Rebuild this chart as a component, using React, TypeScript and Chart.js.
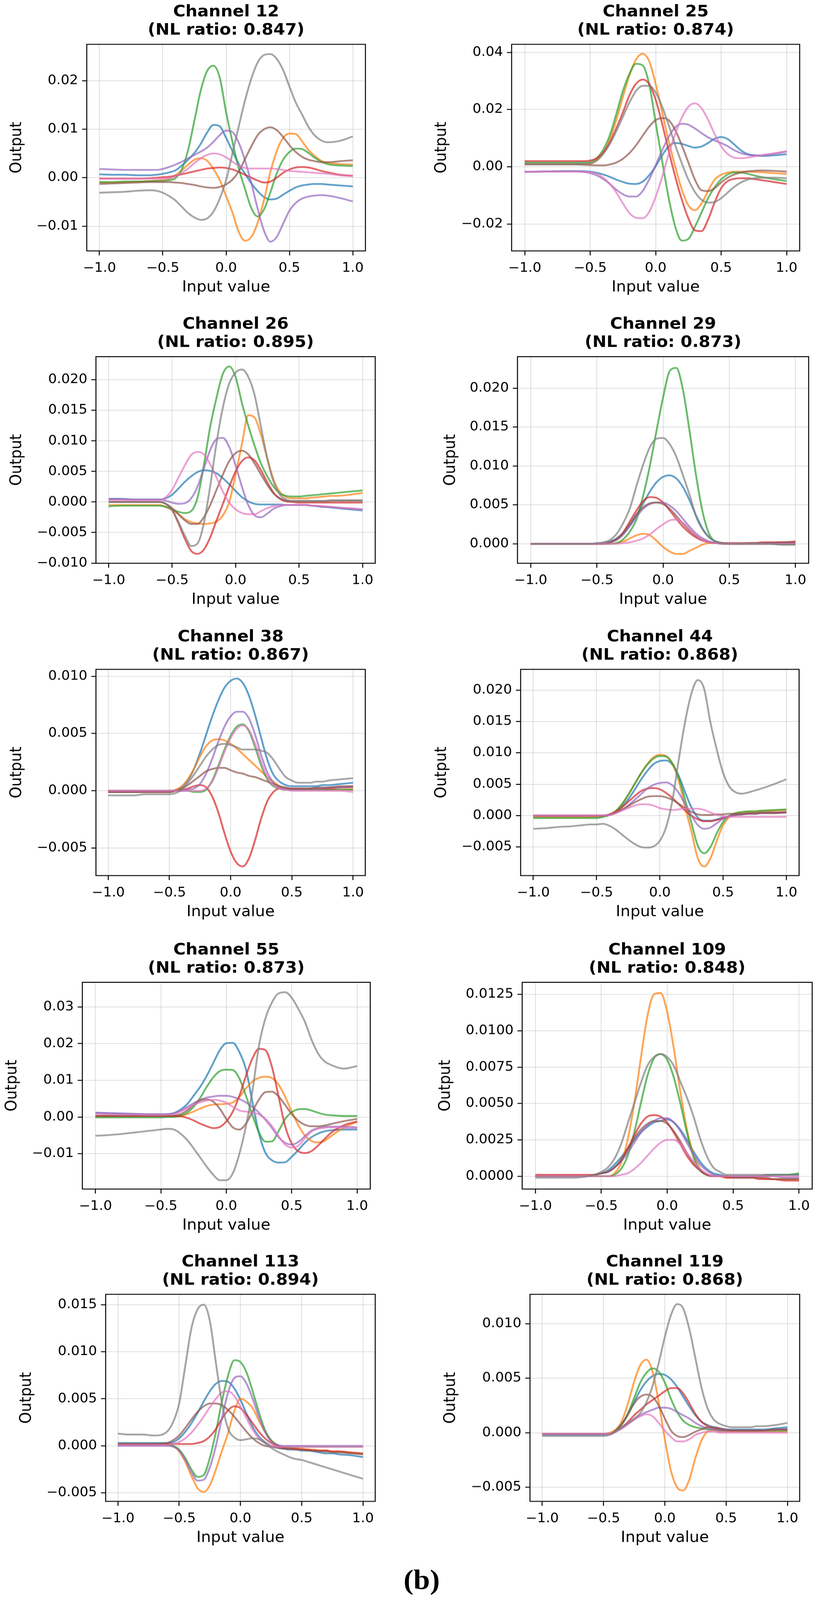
import { useEffect, useRef } from 'react';
import { Chart, registerables } from 'chart.js';

Chart.register(...registerables);

// input positions the curves were read at (shared by every panel)
const inputGrid = [
  -1, -0.9, -0.8, -0.7, -0.6,
  -0.55, -0.5, -0.45, -0.4, -0.35,
  -0.3, -0.25, -0.2, -0.15, -0.1,
  -0.05, 0, 0.05, 0.1, 0.15,
  0.2, 0.25, 0.3, 0.35, 0.4,
  0.45, 0.5, 0.55, 0.6, 0.65,
  0.7, 0.75, 0.8, 0.9, 1,
];

const channels = [12, 25, 26, 29, 38, 44, 55, 109, 113, 119];
const nlRatios = ['0.847', '0.874', '0.895', '0.873', '0.867', '0.868', '0.873', '0.848', '0.894', '0.868'];

const xTicks = [-1, -0.5, 0, 0.5, 1];
const xLimits = [-1.1, 1.1];

const yTicks = [
  [-0.01, 0, 0.01, 0.02],
  [-0.02, 0, 0.02, 0.04],
  [-0.01, -0.005, 0, 0.005, 0.01, 0.015, 0.02],
  [0, 0.005, 0.01, 0.015, 0.02],
  [-0.005, 0, 0.005, 0.01],
  [-0.005, 0, 0.005, 0.01, 0.015, 0.02],
  [-0.01, 0, 0.01, 0.02, 0.03],
  [0, 0.0025, 0.005, 0.0075, 0.01, 0.0125],
  [-0.005, 0, 0.005, 0.01, 0.015],
  [-0.005, 0, 0.005, 0.01],
];
const yDecimals = [2, 2, 3, 3, 3, 3, 2, 4, 3, 3];
const yLimits = [
  [-0.0151, 0.0275],
  [-0.0294, 0.0428],
  [-0.01003, 0.0238],
  [-0.0025, 0.02405],
  [-0.0074, 0.0106],
  [-0.00955, 0.0233],
  [-0.0196, 0.0367],
  [-0.00088, 0.01333],
  [-0.0059, 0.0161],
  [-0.0063, 0.0127],
];

// 8 curves per panel, in order: blue, orange, green, red, purple, brown, pink, gray
const ch12 = [
  [0.0007, 0.0006, 0.0006, 0.0005, 0.0005, 0.0006, 0.0008, 0.0011, 0.0015, 0.0025, 0.0037, 0.0051, 0.007, 0.0093, 0.0109, 0.0106, 0.0082, 0.0055, 0.0028, 0.0008, -0.0012, -0.0028, -0.004, -0.0045, -0.0043, -0.0035, -0.0027, -0.002, -0.0016, -0.0014, -0.0013, -0.0013, -0.0014, -0.0016, -0.0018],
  [-0.001, -0.001, -0.0009, -0.0008, -0.0007, -0.0006, -0.0005, -0.0002, 0.0005, 0.0015, 0.0027, 0.0037, 0.004, 0.0035, 0.0018, -0.0005, -0.0038, -0.0072, -0.0112, -0.013, -0.0122, -0.0092, -0.0045, 0.0012, 0.0055, 0.0082, 0.0091, 0.009, 0.0075, 0.0057, 0.0045, 0.0035, 0.0031, 0.0028, 0.0027],
  [-0.0009, -0.0009, -0.0008, -0.0008, -0.0007, -0.0007, -0.0007, -0.0005, -0.0001, 0.0017, 0.0057, 0.0118, 0.018, 0.022, 0.0231, 0.0206, 0.0135, 0.0074, 0.0019, -0.0024, -0.0063, -0.008, -0.0065, -0.003, 0.0009, 0.0037, 0.0053, 0.006, 0.0059, 0.0051, 0.0041, 0.0033, 0.0028, 0.0025, 0.0024],
  [-0.0002, -0.0002, -0.0002, -0.0002, -0.0001, 0, 0.0001, 0.0002, 0.0004, 0.0007, 0.001, 0.0013, 0.0016, 0.0019, 0.002, 0.0021, 0.002, 0.0017, 0.0012, 0.0006, 0, -0.0006, -0.001, -0.0008, 0, 0.001, 0.0017, 0.0021, 0.0022, 0.0021, 0.0018, 0.0014, 0.0011, 0.0006, 0.0004],
  [0.0018, 0.0017, 0.0016, 0.0016, 0.0016, 0.0016, 0.0018, 0.0022, 0.0027, 0.0033, 0.004, 0.0047, 0.0054, 0.0062, 0.0074, 0.0088, 0.0097, 0.0094, 0.0072, 0.0035, -0.0012, -0.0065, -0.011, -0.0132, -0.0122, -0.0095, -0.0068, -0.0052, -0.0043, -0.0039, -0.0037, -0.0036, -0.0037, -0.0042, -0.0049],
  [-0.0013, -0.0012, -0.0011, -0.001, -0.0009, -0.0009, -0.0009, -0.0009, -0.001, -0.0011, -0.0013, -0.0015, -0.0018, -0.002, -0.0021, -0.0019, -0.0014, -0.0004, 0.0013, 0.0039, 0.0065, 0.0088, 0.01, 0.0104, 0.0098, 0.0084, 0.0067, 0.0053, 0.0043, 0.0037, 0.0034, 0.0032, 0.0032, 0.0034, 0.0036],
  [-0.0002, -0.0002, -0.0002, -0.0002, -0.0002, -0.0002, -0.0002, -0.0001, 0.0003, 0.001, 0.0019, 0.003, 0.004, 0.0047, 0.005, 0.0048, 0.0042, 0.0033, 0.0025, 0.002, 0.0019, 0.0019, 0.0019, 0.0019, 0.0018, 0.0016, 0.0014, 0.0013, 0.0012, 0.0011, 0.001, 0.0009, 0.0008, 0.0005, 0.0003],
  [-0.0031, -0.003, -0.0029, -0.0027, -0.0026, -0.0027, -0.0031, -0.0038, -0.0047, -0.006, -0.0073, -0.0082, -0.0087, -0.0084, -0.007, -0.0043, -0.0005, 0.005, 0.0106, 0.016, 0.0205, 0.0238, 0.0253, 0.0255, 0.0245, 0.0222, 0.0188, 0.0155, 0.013, 0.0105, 0.0087, 0.0077, 0.0073, 0.0076, 0.0085],
];

const ch25 = [
  [-0.0018, -0.0017, -0.0016, -0.0015, -0.0015, -0.0015, -0.0017, -0.0021, -0.0027, -0.0035, -0.0045, -0.0053, -0.0059, -0.006, -0.0052, -0.003, 0.0002, 0.004, 0.0072, 0.0083, 0.008, 0.0073, 0.0067, 0.0071, 0.0083, 0.0098, 0.0104, 0.0097, 0.0078, 0.0058, 0.0045, 0.004, 0.0038, 0.004, 0.0044],
  [0.001, 0.001, 0.001, 0.001, 0.001, 0.001, 0.0011, 0.0022, 0.0048, 0.0095, 0.0165, 0.0245, 0.032, 0.0375, 0.0395, 0.037, 0.029, 0.019, 0.009, 0, -0.008, -0.0135, -0.0152, -0.0128, -0.0085, -0.0045, -0.0028, -0.002, -0.0017, -0.0017, -0.0017, -0.0018, -0.0019, -0.0022, -0.0025],
  [0.0015, 0.0015, 0.0015, 0.0015, 0.0015, 0.0015, 0.0017, 0.003, 0.006, 0.011, 0.0185, 0.0265, 0.0325, 0.036, 0.0355, 0.029, 0.0155, 0.002, -0.011, -0.021, -0.0258, -0.0252, -0.021, -0.016, -0.011, -0.0072, -0.0044, -0.0027, -0.002, -0.002, -0.0024, -0.003, -0.0035, -0.0043, -0.005],
  [0.002, 0.002, 0.002, 0.002, 0.002, 0.002, 0.0022, 0.003, 0.005, 0.0085, 0.0135, 0.019, 0.025, 0.029, 0.0305, 0.029, 0.0235, 0.015, 0.0055, -0.0035, -0.0115, -0.018, -0.0222, -0.0225, -0.0185, -0.0125, -0.0075, -0.005, -0.0042, -0.004, -0.004, -0.0043, -0.0046, -0.0053, -0.006],
  [-0.0018, -0.0017, -0.0016, -0.0016, -0.0016, -0.0018, -0.0022, -0.003, -0.0043, -0.006, -0.008, -0.0096, -0.0104, -0.0104, -0.0085, -0.0045, 0.0005, 0.0058, 0.0105, 0.0138, 0.015, 0.0147, 0.0134, 0.0118, 0.0103, 0.0092, 0.0083, 0.0072, 0.0058, 0.0048, 0.0042, 0.004, 0.004, 0.0045, 0.0053],
  [0.0008, 0.0008, 0.0008, 0.0008, 0.0008, 0.0007, 0.0006, 0.0005, 0.0005, 0.0008, 0.0015, 0.0028, 0.0048, 0.0075, 0.0108, 0.014, 0.0163, 0.017, 0.0163, 0.0128, 0.0075, 0.0015, -0.0045, -0.0082, -0.0085, -0.0075, -0.0055, -0.0038, -0.0027, -0.002, -0.0016, -0.0014, -0.0013, -0.0014, -0.0017],
  [-0.0017, -0.0017, -0.0017, -0.0017, -0.0017, -0.0018, -0.0019, -0.0025, -0.0038, -0.006, -0.009, -0.0128, -0.0162, -0.0178, -0.018, -0.0158, -0.0105, -0.0035, 0.0045, 0.0115, 0.0172, 0.021, 0.0222, 0.0205, 0.0165, 0.0115, 0.0072, 0.0045, 0.0032, 0.003, 0.0032, 0.0036, 0.004, 0.0047, 0.0055],
  [0.001, 0.001, 0.001, 0.001, 0.001, 0.001, 0.0012, 0.0022, 0.0045, 0.008, 0.0125, 0.0175, 0.0225, 0.0265, 0.0283, 0.0283, 0.026, 0.021, 0.0145, 0.0075, 0.0012, -0.0045, -0.0088, -0.0115, -0.0125, -0.0123, -0.011, -0.009, -0.007, -0.0055, -0.0045, -0.004, -0.0038, -0.0038, -0.004],
];

const ch26 = [
  [0.0005, 0.0005, 0.0004, 0.0004, 0.0004, 0.0006, 0.0012, 0.0022, 0.0033, 0.0042, 0.0049, 0.0052, 0.0051, 0.0047, 0.0039, 0.0029, 0.0018, 0.0008, 0.0001, -0.0003, -0.0004, -0.0004, -0.0004, -0.0004, -0.0005, -0.0005, -0.0005, -0.0005, -0.0006, -0.0007, -0.0008, -0.0009, -0.001, -0.0012, -0.0014],
  [-0.0005, -0.0005, -0.0005, -0.0005, -0.0005, -0.0008, -0.0013, -0.002, -0.0028, -0.0033, -0.0035, -0.0036, -0.0035, -0.0032, -0.0022, 0, 0.0045, 0.0095, 0.0142, 0.0138, 0.011, 0.0071, 0.0036, 0.0016, 0.0008, 0.0006, 0.0006, 0.0006, 0.0007, 0.0008, 0.0009, 0.001, 0.001, 0.0012, 0.0015],
  [-0.0007, -0.0006, -0.0006, -0.0006, -0.0006, -0.0008, -0.0012, -0.0016, -0.0018, -0.0015, 0.0007, 0.006, 0.0123, 0.0171, 0.021, 0.0222, 0.0205, 0.0162, 0.0125, 0.0092, 0.0063, 0.0042, 0.0025, 0.0014, 0.001, 0.0009, 0.0009, 0.001, 0.0011, 0.0012, 0.0013, 0.0014, 0.0015, 0.0017, 0.0019],
  [0, 0, 0, 0, 0, -0.0003, -0.0013, -0.0035, -0.006, -0.008, -0.0085, -0.0078, -0.0058, -0.003, -0.0003, 0.0025, 0.005, 0.0067, 0.0073, 0.0068, 0.0052, 0.0032, 0.0015, 0.0005, 0.0001, 0, -0.0001, -0.0001, -0.0001, -0.0001, -0.0001, -0.0001, -0.0001, -0.0001, -0.0001],
  [0.0005, 0.0005, 0.0004, 0.0004, 0.0004, 0.0002, -0.0001, -0.0003, -0.0002, 0.0006, 0.0025, 0.0055, 0.0085, 0.0103, 0.0105, 0.009, 0.006, 0.0025, -0.0005, -0.0022, -0.0025, -0.0019, -0.0011, -0.0007, -0.0005, -0.0005, -0.0005, -0.0005, -0.0006, -0.0007, -0.0008, -0.0008, -0.0009, -0.0011, -0.0012],
  [0, 0, 0, 0, 0, -0.0003, -0.001, -0.002, -0.003, -0.0036, -0.0036, -0.0025, -0.0005, 0.002, 0.0045, 0.0067, 0.008, 0.0084, 0.0078, 0.0063, 0.0045, 0.0028, 0.0014, 0.0006, 0.0002, 0.0001, 0.0001, 0.0001, 0.0001, 0.0001, 0.0001, 0.0002, 0.0002, 0.0002, 0.0002],
  [0.0003, 0.0003, 0.0003, 0.0003, 0.0003, 0.0008, 0.002, 0.004, 0.006, 0.0077, 0.0082, 0.0078, 0.0062, 0.004, 0.0017, -0.0001, -0.0012, -0.0018, -0.002, -0.002, -0.0015, -0.001, -0.0007, -0.0005, -0.0005, -0.0005, -0.0005, -0.0005, -0.0006, -0.0006, -0.0007, -0.0008, -0.0009, -0.001, -0.0012],
  [0, 0, 0, 0, 0, -0.0003, -0.0013, -0.0033, -0.0055, -0.0072, -0.0068, -0.0035, 0.0026, 0.0097, 0.0155, 0.0194, 0.0212, 0.0217, 0.0205, 0.0175, 0.0123, 0.0071, 0.0033, 0.0012, 0.0004, 0.0002, 0.0002, 0.0002, 0.0002, 0.0002, 0.0002, 0.0003, 0.0003, 0.0003, 0.0003],
];

const ch29 = [
  [0, 0, 0, 0, 0, 0, 0, 0.0001, 0.0003, 0.0007, 0.0014, 0.0024, 0.0037, 0.0052, 0.0067, 0.0079, 0.0086, 0.0088, 0.0084, 0.0073, 0.0056, 0.0036, 0.0019, 0.0008, 0.0003, 0.0001, 0, 0, 0, 0, 0, 0, 0.0001, 0.0001, 0.0001],
  [0, 0, 0, 0, 0, 0, 0, 0, 0, 0.0001, 0.0003, 0.0007, 0.0011, 0.0013, 0.0011, 0.0004, -0.0004, -0.001, -0.0013, -0.0013, -0.0009, -0.0005, -0.0001, 0.0001, 0.0001, 0.0001, 0, 0, 0, 0, 0, 0, 0, 0, 0],
  [0, 0, 0, 0, 0, 0, 0, 0, 0, 0.0001, 0.0006, 0.0016, 0.0032, 0.0062, 0.01, 0.0145, 0.0188, 0.0222, 0.0226, 0.0198, 0.0145, 0.0087, 0.004, 0.0012, 0.0002, 0, 0, 0, 0, 0, 0, 0, 0, -0.0001, -0.0001],
  [0, 0, 0, 0, 0, 0, 0, 0, 0.0002, 0.0006, 0.0015, 0.0029, 0.0043, 0.0055, 0.006, 0.0059, 0.0053, 0.0043, 0.0032, 0.0022, 0.0014, 0.0008, 0.0004, 0.0002, 0.0001, 0.0001, 0.0001, 0.0001, 0.0001, 0.0001, 0.0001, 0.0002, 0.0002, 0.0002, 0.0003],
  [0, 0, 0, 0, 0, 0, 0, 0, 0.0002, 0.0005, 0.0012, 0.0023, 0.0035, 0.0045, 0.0051, 0.0053, 0.0053, 0.0049, 0.0042, 0.0032, 0.0022, 0.0013, 0.0007, 0.0003, 0.0001, 0, 0, 0, 0, 0, 0, 0, 0, 0, 0.0001],
  [0, 0, 0, 0, 0, 0, 0, 0, 0.0002, 0.0006, 0.0014, 0.0026, 0.0038, 0.0047, 0.0052, 0.0053, 0.0051, 0.0045, 0.0036, 0.0026, 0.0017, 0.001, 0.0005, 0.0002, 0.0001, 0, 0, 0, 0, 0.0001, 0.0001, 0.0001, 0.0001, 0.0002, 0.0002],
  [0, 0, 0, 0, 0, 0, 0, 0, 0, 0, 0.0001, 0.0002, 0.0004, 0.0007, 0.0012, 0.0019, 0.0025, 0.003, 0.0031, 0.0027, 0.0019, 0.0011, 0.0005, 0.0002, 0.0001, 0, 0, 0, 0, 0, 0, 0, 0, 0, 0],
  [0, 0, 0, 0, 0, 0, 0.0001, 0.0002, 0.0005, 0.0013, 0.0027, 0.0046, 0.0075, 0.0102, 0.0124, 0.0135, 0.0136, 0.0128, 0.0112, 0.0088, 0.0063, 0.0035, 0.0018, 0.0008, 0.0003, 0.0001, 0, 0, 0, 0, 0, 0, 0, -0.0001, -0.0001],
];

const ch38 = [
  [-0.0001, -0.0001, -0.0001, -0.0001, -0.0001, -0.0001, -0.0001, 0, 0.0003, 0.0009, 0.0019, 0.0033, 0.0049, 0.0065, 0.0079, 0.009, 0.0096, 0.0098, 0.0094, 0.0083, 0.0066, 0.0046, 0.0027, 0.0014, 0.0008, 0.0005, 0.0004, 0.0004, 0.0004, 0.0004, 0.0004, 0.0005, 0.0005, 0.0006, 0.0007],
  [0, 0, 0, 0, 0, 0, 0, 0.0001, 0.0004, 0.001, 0.0019, 0.003, 0.0039, 0.0044, 0.0045, 0.0044, 0.0041, 0.0037, 0.0032, 0.0027, 0.0022, 0.0017, 0.0012, 0.0008, 0.0004, 0.0002, 0.0001, 0.0001, 0.0001, 0.0001, 0.0001, 0.0001, 0.0001, 0.0001, 0.0001],
  [0, 0, 0, 0, 0, 0, 0, 0, 0, 0, -0.0001, -0.0001, 0.0001, 0.0009, 0.0022, 0.0036, 0.0048, 0.0056, 0.0058, 0.0052, 0.0038, 0.0022, 0.001, 0.0004, 0.0002, 0.0001, 0.0001, 0.0001, 0.0001, 0.0001, 0.0001, 0.0001, 0.0001, 0.0001, 0.0001],
  [-0.0001, -0.0001, -0.0001, -0.0001, -0.0001, -0.0001, -0.0001, 0, 0.0001, 0.0002, 0.0004, 0.0005, 0.0003, -0.0005, -0.0019, -0.0037, -0.0053, -0.0063, -0.0066, -0.0059, -0.0043, -0.0024, -0.0009, -0.0001, 0.0002, 0.0002, 0.0002, 0.0002, 0.0002, 0.0002, 0.0002, 0.0002, 0.0002, 0.0003, 0.0003],
  [0, 0, 0, 0, 0, 0, 0, 0, 0, 0.0001, 0.0002, 0.0006, 0.0015, 0.0028, 0.0043, 0.0056, 0.0065, 0.0069, 0.0069, 0.0063, 0.0049, 0.0031, 0.0016, 0.0007, 0.0003, 0.0002, 0.0001, 0.0001, 0.0001, 0.0002, 0.0002, 0.0002, 0.0003, 0.0003, 0.0004],
  [-0.0001, -0.0001, -0.0001, -0.0001, -0.0001, -0.0001, -0.0001, 0, 0.0002, 0.0005, 0.0009, 0.0013, 0.0017, 0.0019, 0.002, 0.002, 0.0018, 0.0016, 0.0015, 0.0013, 0.0012, 0.001, 0.0008, 0.0006, 0.0004, 0.0003, 0.0002, 0.0002, 0.0002, 0.0002, 0.0003, 0.0003, 0.0003, 0.0004, 0.0004],
  [0, 0, 0, 0, 0, 0, 0, 0, 0, 0, 0, 0, 0.0002, 0.0008, 0.002, 0.0034, 0.0046, 0.0054, 0.0057, 0.0053, 0.0041, 0.0025, 0.0012, 0.0005, 0.0002, 0.0001, 0, 0, 0, 0, 0, 0, 0, 0, -0.0001],
  [-0.0004, -0.0004, -0.0004, -0.0003, -0.0003, -0.0003, -0.0003, -0.0002, 0.0001, 0.0007, 0.0014, 0.0022, 0.003, 0.0036, 0.004, 0.0041, 0.004, 0.0038, 0.0036, 0.0036, 0.0036, 0.0035, 0.0033, 0.0027, 0.0019, 0.0012, 0.0009, 0.0007, 0.0007, 0.0007, 0.0008, 0.0008, 0.0009, 0.001, 0.0011],
];

const ch44 = [
  [-0.0002, -0.0002, -0.0002, -0.0002, -0.0002, -0.0002, -0.0002, -0.0001, 0.0001, 0.0006, 0.0014, 0.0026, 0.0041, 0.0057, 0.0071, 0.0082, 0.0087, 0.0088, 0.0081, 0.0063, 0.0037, 0.0013, -0.0003, -0.0008, -0.0008, -0.0006, -0.0003, -0.0001, 0.0001, 0.0002, 0.0003, 0.0003, 0.0004, 0.0004, 0.0005],
  [-0.0002, -0.0002, -0.0002, -0.0002, -0.0002, -0.0002, -0.0002, -0.0001, 0.0001, 0.0007, 0.0018, 0.0033, 0.005, 0.0067, 0.0082, 0.0093, 0.0097, 0.0095, 0.0082, 0.0055, 0.0013, -0.0026, -0.0068, -0.0081, -0.0068, -0.004, -0.0015, -0.0002, 0.0004, 0.0005, 0.0006, 0.0006, 0.0007, 0.0008, 0.0009],
  [-0.0004, -0.0004, -0.0004, -0.0004, -0.0004, -0.0004, -0.0004, -0.0002, 0.0001, 0.0007, 0.0018, 0.0033, 0.005, 0.0067, 0.0081, 0.0091, 0.0095, 0.0094, 0.0083, 0.006, 0.0025, -0.0012, -0.0048, -0.006, -0.005, -0.0028, -0.001, 0, 0.0004, 0.0006, 0.0007, 0.0007, 0.0008, 0.0009, 0.001],
  [0, 0, 0, 0, 0, 0, 0, 0, 0.0002, 0.0006, 0.0013, 0.0022, 0.0031, 0.0039, 0.0043, 0.0044, 0.0042, 0.0036, 0.0028, 0.0018, 0.0008, 0, -0.0006, -0.0009, -0.0009, -0.0007, -0.0004, -0.0001, 0.0001, 0.0002, 0.0003, 0.0003, 0.0004, 0.0004, 0.0005],
  [0, 0, 0, 0, 0, 0, 0, 0, 0.0001, 0.0004, 0.0009, 0.0016, 0.0025, 0.0034, 0.0043, 0.0049, 0.0052, 0.0053, 0.0048, 0.0036, 0.0018, 0, -0.0015, -0.0021, -0.0019, -0.0012, -0.0005, -0.0001, 0.0001, 0.0002, 0.0003, 0.0003, 0.0004, 0.0005, 0.0005],
  [0, 0, 0, 0, 0, 0, 0, 0, 0.0001, 0.0004, 0.0009, 0.0015, 0.0021, 0.0026, 0.003, 0.0031, 0.0031, 0.0029, 0.0025, 0.0019, 0.0012, 0.0006, 0.0002, 0.0001, 0.0001, 0.0002, 0.0002, 0.0003, 0.0003, 0.0003, 0.0004, 0.0004, 0.0005, 0.0005, 0.0006],
  [0, 0, 0, 0, 0, 0, 0, 0, 0.0001, 0.0004, 0.0008, 0.0012, 0.0016, 0.0018, 0.0018, 0.0016, 0.0012, 0.001, 0.0009, 0.001, 0.0011, 0.0011, 0.0011, 0.0009, 0.0005, 0.0001, -0.0001, -0.0002, -0.0002, -0.0002, -0.0002, -0.0002, -0.0002, -0.0002, -0.0002],
  [-0.0021, -0.002, -0.0018, -0.0017, -0.0015, -0.0014, -0.0014, -0.0013, -0.0016, -0.0022, -0.003, -0.0038, -0.0045, -0.005, -0.0051, -0.0049, -0.004, -0.0018, 0.0025, 0.009, 0.015, 0.0195, 0.0216, 0.0202, 0.0148, 0.0105, 0.0068, 0.0046, 0.0037, 0.0035, 0.0037, 0.004, 0.0043, 0.005, 0.0058],
];

const ch55 = [
  [0.0011, 0.001, 0.0009, 0.0008, 0.0007, 0.0007, 0.0007, 0.0008, 0.0011, 0.002, 0.0035, 0.0058, 0.0082, 0.0112, 0.0147, 0.0182, 0.0201, 0.0202, 0.0177, 0.013, 0.004, -0.0045, -0.0098, -0.0118, -0.0124, -0.0123, -0.0108, -0.009, -0.007, -0.0055, -0.0045, -0.0039, -0.0036, -0.0034, -0.0034],
  [0.0003, 0.0003, 0.0003, 0.0003, 0.0003, 0.0003, 0.0003, 0.0003, 0.0003, 0.0003, 0.0008, 0.0015, 0.0023, 0.003, 0.0034, 0.0035, 0.0036, 0.004, 0.0055, 0.0078, 0.0097, 0.0107, 0.011, 0.0106, 0.0088, 0.0055, 0.0015, -0.0022, -0.005, -0.0065, -0.0069, -0.0065, -0.0052, -0.0028, -0.0013],
  [-0.0001, -0.0001, -0.0001, -0.0001, -0.0001, -0.0001, -0.0001, 0, 0, 0.0004, 0.0012, 0.0028, 0.0052, 0.0082, 0.0108, 0.0125, 0.0129, 0.0128, 0.0105, 0.0058, 0.0005, -0.0042, -0.0067, -0.0066, -0.0038, -0.0005, 0.0013, 0.0021, 0.0022, 0.0018, 0.0012, 0.0007, 0.0005, 0.0003, 0.0003],
  [0.0003, 0.0003, 0.0003, 0.0003, 0.0003, 0.0003, 0.0003, 0.0003, 0.0003, 0.0002, -0.0002, -0.0009, -0.0018, -0.0025, -0.003, -0.0027, -0.0012, 0.0015, 0.0058, 0.0112, 0.016, 0.0186, 0.0182, 0.0135, 0.0055, -0.0025, -0.0072, -0.0093, -0.0098, -0.0093, -0.0078, -0.006, -0.0043, -0.0022, -0.0012],
  [0.0012, 0.0011, 0.001, 0.0009, 0.0008, 0.0008, 0.0008, 0.0008, 0.001, 0.0017, 0.0027, 0.0038, 0.0047, 0.0053, 0.0056, 0.0058, 0.0058, 0.0055, 0.0049, 0.004, 0.0027, 0.0012, -0.0008, -0.003, -0.0055, -0.007, -0.0075, -0.0068, -0.0052, -0.0037, -0.003, -0.0027, -0.0026, -0.0026, -0.0028],
  [0.0003, 0.0003, 0.0003, 0.0003, 0.0003, 0.0003, 0.0003, 0.0003, 0.0004, 0.0008, 0.0018, 0.0033, 0.0045, 0.0048, 0.0042, 0.0023, -0.0005, -0.0028, -0.0034, -0.0018, 0.0015, 0.0048, 0.0068, 0.0069, 0.0056, 0.0033, 0.0008, -0.001, -0.0021, -0.0025, -0.0025, -0.0023, -0.0019, -0.0011, -0.0005],
  [0.0009, 0.0008, 0.0007, 0.0007, 0.0006, 0.0006, 0.0006, 0.0007, 0.0008, 0.0015, 0.0024, 0.0033, 0.004, 0.0045, 0.0047, 0.0045, 0.0039, 0.0028, 0.0018, 0.0015, 0.0012, 0.0007, -0.0005, -0.0025, -0.0052, -0.0075, -0.0083, -0.0078, -0.0058, -0.004, -0.0032, -0.0029, -0.0028, -0.0029, -0.003],
  [-0.0051, -0.0049, -0.0046, -0.0042, -0.0038, -0.0036, -0.0034, -0.0032, -0.0034, -0.0045, -0.0062, -0.0085, -0.011, -0.0135, -0.0157, -0.0172, -0.0172, -0.0153, -0.01, -0.0025, 0.0072, 0.0195, 0.027, 0.0313, 0.0337, 0.034, 0.0325, 0.0295, 0.026, 0.0212, 0.0174, 0.0152, 0.0142, 0.0132, 0.0139],
];

const ch109 = [
  [0, 0, 0, 0, 0, 0.0001, 0.0002, 0.0004, 0.0008, 0.0013, 0.0019, 0.0025, 0.003, 0.0034, 0.0037, 0.0038, 0.0039, 0.0037, 0.0032, 0.0025, 0.0017, 0.001, 0.0005, 0.0002, 0.0001, 0, 0, 0, 0, 0, 0, 0, 0.0001, 0.0001, 0.0001],
  [0, 0, 0, 0, 0, 0, 0, 0, 0.0002, 0.0009, 0.0025, 0.005, 0.0081, 0.011, 0.0125, 0.0126, 0.0113, 0.0088, 0.0058, 0.0032, 0.0015, 0.0005, 0.0001, 0, 0, -0.0001, -0.0001, -0.0001, -0.0001, -0.0001, -0.0001, -0.0002, -0.0002, -0.0002, -0.0002],
  [0, 0, 0, 0, 0, 0, 0, 0, 0.0001, 0.0005, 0.0014, 0.003, 0.005, 0.0069, 0.0081, 0.0084, 0.008, 0.0068, 0.005, 0.003, 0.0013, 0.0004, 0.0001, 0, 0, 0, 0, 0, 0, 0, 0, 0.0001, 0.0001, 0.0001, 0.0002],
  [0.0001, 0.0001, 0.0001, 0.0001, 0.0001, 0.0001, 0.0002, 0.0003, 0.0006, 0.0011, 0.0019, 0.0028, 0.0036, 0.0041, 0.0042, 0.0041, 0.0037, 0.003, 0.0022, 0.0014, 0.0008, 0.0004, 0.0001, 0, 0, -0.0001, -0.0001, -0.0001, -0.0001, -0.0001, -0.0002, -0.0002, -0.0002, -0.0003, -0.0003],
  [0, 0, 0, 0, 0, 0.0001, 0.0002, 0.0003, 0.0006, 0.001, 0.0016, 0.0023, 0.003, 0.0035, 0.0038, 0.004, 0.004, 0.0037, 0.0031, 0.0023, 0.0015, 0.0008, 0.0004, 0.0001, 0, 0, 0, 0, 0, 0, 0, 0, 0, -0.0001, -0.0001],
  [0, 0, 0, 0, 0, 0.0001, 0.0002, 0.0003, 0.0006, 0.0011, 0.0018, 0.0026, 0.0032, 0.0036, 0.0038, 0.0038, 0.0036, 0.0031, 0.0024, 0.0016, 0.0009, 0.0004, 0.0001, 0, 0, 0, -0.0001, -0.0001, -0.0001, -0.0001, -0.0001, -0.0001, -0.0002, -0.0002, -0.0002],
  [0, 0, 0, 0, 0, 0, 0, 0, 0, 0.0001, 0.0002, 0.0005, 0.0009, 0.0014, 0.0019, 0.0023, 0.0025, 0.0025, 0.0022, 0.0016, 0.001, 0.0005, 0.0002, 0, 0, 0, 0, 0, 0, 0, 0, 0, 0, 0, 0],
  [-0.0001, -0.0001, -0.0001, -0.0001, 0, 0.0001, 0.0003, 0.0006, 0.0012, 0.0022, 0.0036, 0.005, 0.0064, 0.0076, 0.0082, 0.0084, 0.0082, 0.0076, 0.0065, 0.0054, 0.0041, 0.0026, 0.0014, 0.0006, 0.0003, 0.0001, 0.0001, 0.0001, 0.0001, 0.0001, 0.0001, 0.0001, 0.0001, 0.0001, 0.0001],
];

const ch113 = [
  [0.0003, 0.0003, 0.0003, 0.0003, 0.0003, 0.0004, 0.0008, 0.0015, 0.0024, 0.0035, 0.0047, 0.0058, 0.0066, 0.0069, 0.0068, 0.0061, 0.0049, 0.0034, 0.002, 0.001, 0.0004, 0, -0.0002, -0.0003, -0.0004, -0.0004, -0.0005, -0.0005, -0.0006, -0.0007, -0.0008, -0.0008, -0.0009, -0.001, -0.0012],
  [0.0001, 0.0001, 0.0001, 0.0001, 0.0001, 0, -0.0006, -0.0017, -0.0032, -0.0045, -0.0049, -0.0042, -0.0025, -0.0005, 0.0014, 0.0037, 0.005, 0.0047, 0.004, 0.0027, 0.0015, 0.0006, 0.0001, -0.0001, -0.0002, -0.0003, -0.0003, -0.0004, -0.0004, -0.0005, -0.0005, -0.0006, -0.0006, -0.0007, -0.0009],
  [0.0001, 0.0001, 0.0001, 0.0001, 0.0001, 0, -0.0004, -0.0013, -0.0025, -0.0033, -0.0031, -0.0013, 0.0015, 0.0048, 0.0075, 0.0091, 0.0089, 0.0078, 0.0058, 0.0036, 0.0017, 0.0006, 0.0001, -0.0001, -0.0001, -0.0001, -0.0001, -0.0001, -0.0001, -0.0001, -0.0001, -0.0001, -0.0001, -0.0001, -0.0001],
  [0.0002, 0.0002, 0.0002, 0.0002, 0.0002, 0.0002, 0.0002, 0.0002, 0.0002, 0.0003, 0.0005, 0.001, 0.0018, 0.0029, 0.0038, 0.0042, 0.004, 0.0033, 0.0024, 0.0015, 0.0008, 0.0003, 0, -0.0002, -0.0003, -0.0003, -0.0004, -0.0004, -0.0005, -0.0005, -0.0005, -0.0006, -0.0006, -0.0007, -0.0008],
  [0, 0, 0, 0, 0, -0.0001, -0.0005, -0.0015, -0.0028, -0.0037, -0.0036, -0.0023, 0, 0.003, 0.0057, 0.0072, 0.0074, 0.0066, 0.005, 0.0031, 0.0015, 0.0005, 0.0001, 0, 0, 0, 0, 0, 0, 0, 0, 0, 0, 0, 0],
  [0.0002, 0.0002, 0.0002, 0.0002, 0.0003, 0.0006, 0.0011, 0.0019, 0.0028, 0.0036, 0.0042, 0.0045, 0.0045, 0.0043, 0.0038, 0.0031, 0.0023, 0.0015, 0.0008, 0.0003, 0, -0.0001, -0.0002, -0.0003, -0.0003, -0.0004, -0.0004, -0.0005, -0.0005, -0.0006, -0.0006, -0.0007, -0.0007, -0.0008, -0.0009],
  [0.0001, 0.0001, 0.0001, 0.0001, 0.0001, 0.0002, 0.0004, 0.0008, 0.0014, 0.0022, 0.0031, 0.0041, 0.005, 0.0057, 0.0058, 0.0053, 0.0042, 0.0029, 0.0017, 0.0008, 0.0003, 0, -0.0001, -0.0001, -0.0001, -0.0001, -0.0001, -0.0001, -0.0001, -0.0001, -0.0001, -0.0001, -0.0001, -0.0001, -0.0001],
  [0.0013, 0.0012, 0.0012, 0.0011, 0.0015, 0.0025, 0.0045, 0.0085, 0.0125, 0.0145, 0.015, 0.0133, 0.0088, 0.0045, 0.0018, 0.0009, 0.0006, 0.0007, 0.0008, 0.0007, 0.0003, -0.0002, -0.0006, -0.0009, -0.0012, -0.0014, -0.0015, -0.0017, -0.0019, -0.0021, -0.0023, -0.0025, -0.0027, -0.0031, -0.0035],
];

const ch119 = [
  [-0.0002, -0.0002, -0.0002, -0.0002, -0.0002, -0.0002, -0.0002, -0.0001, 0.0002, 0.0008, 0.0017, 0.0028, 0.0039, 0.0047, 0.0052, 0.0054, 0.0053, 0.0049, 0.0042, 0.0033, 0.0024, 0.0016, 0.001, 0.0007, 0.0005, 0.0004, 0.0003, 0.0003, 0.0003, 0.0003, 0.0003, 0.0003, 0.0003, 0.0004, 0.0005],
  [-0.0001, -0.0001, -0.0001, -0.0001, -0.0001, -0.0001, -0.0001, 0, 0.0003, 0.0011, 0.0027, 0.0047, 0.0062, 0.0067, 0.0056, 0.0028, -0.0006, -0.0035, -0.005, -0.0053, -0.0043, -0.0023, -0.0007, 0.0001, 0.0002, 0.0001, 0.0001, 0.0001, 0.0001, 0.0001, 0.0001, 0.0001, 0.0001, 0.0001, 0.0001],
  [-0.0001, -0.0001, -0.0001, -0.0001, -0.0001, -0.0001, -0.0001, -0.0001, 0.0002, 0.0008, 0.0018, 0.0032, 0.0046, 0.0055, 0.0059, 0.0056, 0.0046, 0.0031, 0.0019, 0.0011, 0.0007, 0.0005, 0.0004, 0.0003, 0.0003, 0.0002, 0.0002, 0.0002, 0.0002, 0.0002, 0.0002, 0.0002, 0.0002, 0.0002, 0.0002],
  [-0.0001, -0.0001, -0.0001, -0.0001, -0.0001, -0.0001, -0.0001, -0.0001, 0.0001, 0.0005, 0.001, 0.0016, 0.0021, 0.0026, 0.003, 0.0034, 0.0038, 0.0041, 0.0041, 0.0036, 0.0027, 0.0017, 0.001, 0.0006, 0.0004, 0.0003, 0.0002, 0.0002, 0.0002, 0.0002, 0.0002, 0.0002, 0.0002, 0.0003, 0.0003],
  [-0.0001, -0.0001, -0.0001, -0.0001, -0.0001, -0.0001, -0.0001, -0.0001, 0.0001, 0.0004, 0.0008, 0.0012, 0.0016, 0.0019, 0.0021, 0.0023, 0.0023, 0.0022, 0.0019, 0.0016, 0.0013, 0.0009, 0.0006, 0.0004, 0.0003, 0.0002, 0.0002, 0.0002, 0.0002, 0.0002, 0.0002, 0.0002, 0.0002, 0.0003, 0.0003],
  [-0.0001, -0.0001, -0.0001, -0.0001, -0.0001, -0.0001, -0.0001, -0.0001, 0.0002, 0.0008, 0.0017, 0.0027, 0.0033, 0.0035, 0.0033, 0.0025, 0.0013, 0.0002, -0.0003, -0.0004, -0.0002, 0.0001, 0.0003, 0.0005, 0.0005, 0.0004, 0.0003, 0.0002, 0.0002, 0.0002, 0.0002, 0.0002, 0.0002, 0.0003, 0.0003],
  [-0.0001, -0.0001, -0.0001, -0.0001, -0.0001, -0.0001, -0.0001, -0.0001, 0.0001, 0.0004, 0.0008, 0.0012, 0.0015, 0.0017, 0.0015, 0.0009, 0.0002, -0.0004, -0.0008, -0.0008, -0.0006, -0.0002, 0, 0.0001, 0.0001, 0, 0, 0, 0, 0, 0, 0, 0, 0, 0],
  [-0.0003, -0.0003, -0.0003, -0.0003, -0.0003, -0.0003, -0.0003, -0.0002, 0.0001, 0.0005, 0.0009, 0.0013, 0.0018, 0.0028, 0.0043, 0.0064, 0.0088, 0.0108, 0.0118, 0.0114, 0.0095, 0.0068, 0.0041, 0.0022, 0.0012, 0.0008, 0.0006, 0.0005, 0.0005, 0.0005, 0.0005, 0.0006, 0.0006, 0.0007, 0.0009],
];

const panelSeries = [ch12, ch25, ch26, ch29, ch38, ch44, ch55, ch109, ch113, ch119];

// matplotlib tab10, drawn at alpha 0.7
const lineColors = [
  'rgba(31,119,180,0.7)',
  'rgba(255,127,14,0.7)',
  'rgba(44,160,44,0.7)',
  'rgba(214,39,40,0.7)',
  'rgba(148,103,189,0.7)',
  'rgba(140,86,75,0.7)',
  'rgba(227,119,194,0.7)',
  'rgba(127,127,127,0.7)',
];

// plot box edges in page pixels: left, right, top, bottom, then the centre of the y label
const panelBoxes = [
  [222, 935, 119, 674, 43.5],
  [1309, 2046, 119, 674, 1131],
  [245.5, 960, 958, 1513.4, 43.5],
  [1324, 2069, 958, 1513.4, 1154],
  [245.5, 934.6, 1798, 2352.4, 43.5],
  [1332, 2044.5, 1798, 2352.4, 1131],
  [210.7, 947.3, 2639.3, 3194, 32],
  [1336, 2078, 2639.3, 3194, 1141],
  [270.3, 960, 3477.2, 4033, 69],
  [1356, 2046, 3477.2, 4033, 1154],
];

const PAGE_W = 2098;
const PAGE_H = 4298;
const CELL_W = 1049;
const TITLE_SPACE = 120;
const X_AXIS_SPACE = 123;
const FONT = '"DejaVu Sans", Verdana, sans-serif';
const GRID = 'rgba(176,176,176,0.42)';

const fmt = (v: number, d: number) => v.toFixed(d).replace('-', '\u2212');

const framePlugin = {
  id: 'frame',
  afterDraw(chart: Chart) {
    const { ctx, chartArea: a } = chart;
    ctx.save();
    ctx.strokeStyle = '#000';
    ctx.lineWidth = 2.5;
    ctx.strokeRect(a.left, a.top, a.right - a.left, a.bottom - a.top);
    ctx.restore();
  },
};

function Panel({ index }: { index: number }) {
  const canvasRef = useRef<HTMLCanvasElement>(null);
  const [left, right, top, bottom, yLabelX] = panelBoxes[index];
  const cellLeft = index % 2 === 0 ? 0 : CELL_W;
  const canvasTop = Math.round(top - TITLE_SPACE);
  const canvasHeight = Math.round(bottom + X_AXIS_SPACE - canvasTop);

  useEffect(() => {
    if (!canvasRef.current) return;
    const ctx = canvasRef.current.getContext('2d');
    if (!ctx) return;

    const chart = new Chart(ctx, {
      type: 'line',
      data: {
        datasets: panelSeries[index].map((values, k) => ({
          data: inputGrid.map((x, j) => ({ x, y: values[j] })),
          borderColor: lineColors[k],
          backgroundColor: lineColors[k],
          borderWidth: 4.8,
          pointRadius: 0,
          cubicInterpolationMode: 'monotone',
          fill: false,
          order: lineColors.length - k,
        })),
      },
      options: {
        responsive: false,
        animation: false,
        layout: { padding: { left: 0, right: cellLeft + CELL_W - right, top: canvasTop - (top - TITLE_SPACE), bottom: 0 } },
        plugins: {
          legend: { display: false },
          tooltip: { enabled: false },
          title: {
            display: true,
            text: [`Channel ${channels[index]}`, `(NL ratio: ${nlRatios[index]})`],
            color: '#000',
            fullSize: false,
            font: { family: FONT, size: 43, weight: 'bold', lineHeight: 1.14 },
            padding: { top: 9.2, bottom: 12.8 },
          },
        },
        scales: {
          x: {
            type: 'linear',
            min: xLimits[0],
            max: xLimits[1],
            afterBuildTicks: (scale: any) => {
              scale.ticks = xTicks.map((value) => ({ value }));
            },
            afterFit: (scale: any) => {
              scale.height = X_AXIS_SPACE;
            },
            ticks: {
              autoSkip: false,
              maxRotation: 0,
              color: '#000',
              padding: 14,
              font: { family: FONT, size: 35 },
              callback: (v: any) => fmt(Number(v), 1),
            },
            grid: { color: GRID, lineWidth: 2, tickLength: 12, tickColor: '#000', tickWidth: 2.5 },
            border: { display: false },
            title: {
              display: true,
              text: 'Input value',
              color: '#000',
              font: { family: FONT, size: 40, lineHeight: 1.2 },
              padding: { top: 0, bottom: 0 },
            },
          },
          y: {
            type: 'linear',
            min: yLimits[index][0],
            max: yLimits[index][1],
            afterBuildTicks: (scale: any) => {
              scale.ticks = yTicks[index].map((value) => ({ value }));
            },
            afterFit: (scale: any) => {
              scale.width = left - cellLeft;
            },
            ticks: {
              autoSkip: false,
              color: '#000',
              padding: 10,
              font: { family: FONT, size: 35 },
              callback: (v: any) => fmt(Number(v), yDecimals[index]),
            },
            grid: { color: GRID, lineWidth: 2, tickLength: 12, tickColor: '#000', tickWidth: 2.5 },
            border: { display: false },
            title: {
              display: true,
              text: 'Output',
              color: '#000',
              font: { family: FONT, size: 40, lineHeight: 1.2 },
              padding: { top: yLabelX - cellLeft - 24, bottom: 0 },
            },
          },
        },
      },
      plugins: [framePlugin],
    } as any);

    return () => {
      chart.destroy();
    };
  }, [index]);

  return (
    <canvas
      ref={canvasRef}
      width={CELL_W}
      height={canvasHeight}
      style={{ position: 'absolute', left: cellLeft, top: canvasTop, width: CELL_W, height: canvasHeight }}
    />
  );
}

export default function App() {
  // the visible area is a little shorter than the window; squeeze the figure vertically to fit it
  const viewH = typeof window !== 'undefined' ? window.innerHeight : PAGE_H;
  const fitY = Math.min(1, viewH / PAGE_H);

  return (
    <div style={{ position: 'absolute', left: 0, top: 0, width: PAGE_W, height: Math.floor(PAGE_H * fitY), overflow: 'hidden', background: '#fff' }}>
      <div
        style={{
          position: 'absolute',
          left: 0,
          top: 0,
          width: PAGE_W,
          height: PAGE_H,
          transform: `scale(1, ${fitY})`,
          transformOrigin: '0 0',
        }}
      >
        {channels.map((ch, i) => (
          <Panel key={ch} index={i} />
        ))}
        <div
          style={{
            position: 'absolute',
            left: 979,
            top: 4205,
            width: 200,
            textAlign: 'center',
            fontFamily: '"Liberation Serif", "Times New Roman", serif',
            fontWeight: 'bold',
            fontSize: 76,
            lineHeight: '76px',
            color: '#000',
          }}
        >
          (b)
        </div>
      </div>
    </div>
  );
}
